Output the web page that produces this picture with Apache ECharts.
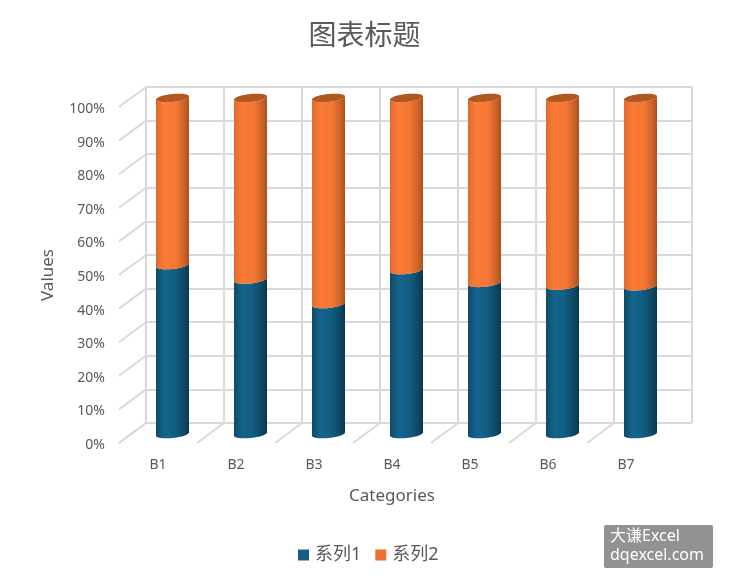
<!DOCTYPE html>
<html>
<head>
<meta charset="utf-8">
<script src="https://cdn.jsdelivr.net/npm/echarts@6/dist/echarts.min.js"></script>
<style>html,body{margin:0;padding:0;background:#fff}#c{width:729px;height:584px}</style>
</head>
<body>
<div id="c"></div>
<script>
var categories = ['B1','B2','B3','B4','B5','B6','B7'];
var series1Values = [50.3,46,38.7,48.8,45,44.2,44];
var series2Values = [49.7,54,61.3,51.2,55,55.8,56];
var seriesNames = ['系列1','系列2'];
var titleText = '图表标题';

var FONT = '"Noto Sans","Noto Sans CJK SC",sans-serif';
var GREY = '#595959', LINE = '#d9d9d9';
var DX = 27, DY = -20;          // depth of the floor
var A = 16.5, B = 4, K = 0.1;   // cylinder ellipse

function arc(cx, cy, from, to, n) {
  var p = [];
  for (var i = 0; i <= n; i++) {
    var t = from + (to - from) * i / n;
    p.push([cx + A * Math.cos(t), cy + B * Math.sin(t) - K * A * Math.cos(t)]);
  }
  return p;
}
function grad(stops) {
  return new echarts.graphic.LinearGradient(0, 0, 1, 0, stops);
}
function cyl(body, cap) {
  return function (params, api) {
    var idx = api.value(0);
    var lo = api.coord([idx, api.value(1)]);
    var hi = api.coord([idx, api.value(2)]);
    var cx = lo[0] + DX / 2 + 1, y0 = lo[1] + DY / 2 + 1, y1 = hi[1] + DY / 2 + 1;
    var pts = arc(cx, y0, Math.PI, 0, 24).concat(arc(cx, y1, 0, Math.PI, 24));
    var children = [{ type: 'polygon', shape: { points: pts }, style: { fill: grad(body) } }];
    if (cap) {
      children.push({ type: 'polygon', shape: { points: arc(cx, y1, 0, Math.PI * 2, 48) }, style: { fill: cap } });
    }
    return { type: 'group', children: children };
  };
}
var blueBody = [
  { offset: 0, color: '#0f4a68' }, { offset: 0.25, color: '#14648c' }, { offset: 0.55, color: '#135f84' },
  { offset: 0.85, color: '#0e4865' }, { offset: 1, color: '#0b374e' }
];
var orangeBody = [
  { offset: 0, color: '#e06b2e' }, { offset: 0.25, color: '#fa7a36' }, { offset: 0.6, color: '#f57734' },
  { offset: 0.85, color: '#cc6329' }, { offset: 1, color: '#a8521f' }
];

var yTicks = [0,10,20,30,40,50,60,70,80,90,100];
var floorTicks = categories.map(function (c, i) { return i; });

function diag(params, api) {
  var p = api.coord([api.value(0), api.value(1)]);
  var bw = api.size([1, 0])[0];
  return {
    type: 'line',
    shape: { x1: p[0] - bw / 2, y1: p[1], x2: p[0] - bw / 2 + DX, y2: p[1] + DY },
    style: { stroke: LINE, lineWidth: 2 }
  };
}

var chart = echarts.init(document.getElementById('c'));
chart.setOption({
  animation: false,
  title: {
    text: titleText, left: 'center', top: 18,
    textStyle: { fontFamily: FONT, fontSize: 28, fontWeight: 'normal', color: GREY }
  },
  legend: {
    data: seriesNames, left: 293, top: 541, icon: 'rect', itemWidth: 11, itemHeight: 11, itemGap: 14,
    textStyle: { fontFamily: FONT, fontSize: 18, color: GREY, padding: [0,0,0,1] }
  },
  grid: [
    { left: 119, top: 107, width: 546, height: 336 },
    { left: 146, top: 87, width: 546, height: 336 }
  ],
  xAxis: [
    { type: 'category', gridIndex: 0, data: categories, name: 'Categories', nameLocation: 'middle', nameGap: 45,
      nameTextStyle: { fontFamily: FONT, fontSize: 17, color: GREY },
      axisLine: { show: false }, axisTick: { show: false },
      axisLabel: { fontFamily: FONT, fontSize: 14, color: GREY, margin: 15 } },
    { type: 'category', gridIndex: 1, data: categories,
      axisLine: { show: false }, axisTick: { show: false }, axisLabel: { show: false },
      splitLine: { show: true, lineStyle: { color: LINE, width: 2 } } }
  ],
  yAxis: [
    { type: 'value', gridIndex: 0, min: 0, max: 100, interval: 10, name: 'Values', nameLocation: 'middle', nameGap: 62,
      nameTextStyle: { fontFamily: FONT, fontSize: 17, color: GREY },
      axisLine: { show: false }, axisTick: { show: false }, splitLine: { show: false },
      axisLabel: { fontFamily: FONT, fontSize: 14, color: GREY, margin: 14, verticalAlign: 'top', lineHeight: 4, formatter: '{value}%' } },
    { type: 'value', gridIndex: 1, min: 0, max: 100, interval: 10,
      axisLine: { show: false }, axisTick: { show: false }, axisLabel: { show: false },
      splitLine: { show: true, lineStyle: { color: LINE, width: 2 } } }
  ],
  series: [
    { type: 'custom', silent: true, xAxisIndex: 0, yAxisIndex: 0, clip: false, z: 1, renderItem: diag,
      data: yTicks.map(function (v) { return [0, v]; }) },
    { type: 'custom', silent: true, xAxisIndex: 0, yAxisIndex: 0, clip: false, z: 1, renderItem: diag,
      data: floorTicks.map(function (i) { return [i, 0]; }) },
    { type: 'custom', name: seriesNames[0], silent: true, xAxisIndex: 0, yAxisIndex: 0, clip: false, z: 2,
      itemStyle: { color: '#156082' }, renderItem: cyl(blueBody, null),
      data: series1Values.map(function (v, i) { return [i, 0, v]; }) },
    { type: 'custom', name: seriesNames[1], silent: true, xAxisIndex: 0, yAxisIndex: 0, clip: false, z: 3,
      itemStyle: { color: '#e97132' }, renderItem: cyl(orangeBody, '#b0581f'),
      data: series2Values.map(function (v, i) { return [i, series1Values[i], series1Values[i] + v]; }) }
  ],
  graphic: [
    { type: 'rect', left: 604, top: 525, shape: { width: 109, height: 43, r: 2 }, style: { fill: '#929292' }, z: 10 },
    { type: 'text', left: 610, top: 528, style: { text: '大谦Excel', fill: '#fff', font: '16px ' + FONT }, z: 11 },
    { type: 'text', left: 610, top: 547, style: { text: 'dqexcel.com', fill: '#fff', font: '16px ' + FONT }, z: 11 }
  ]
});
</script>
</body>
</html>
